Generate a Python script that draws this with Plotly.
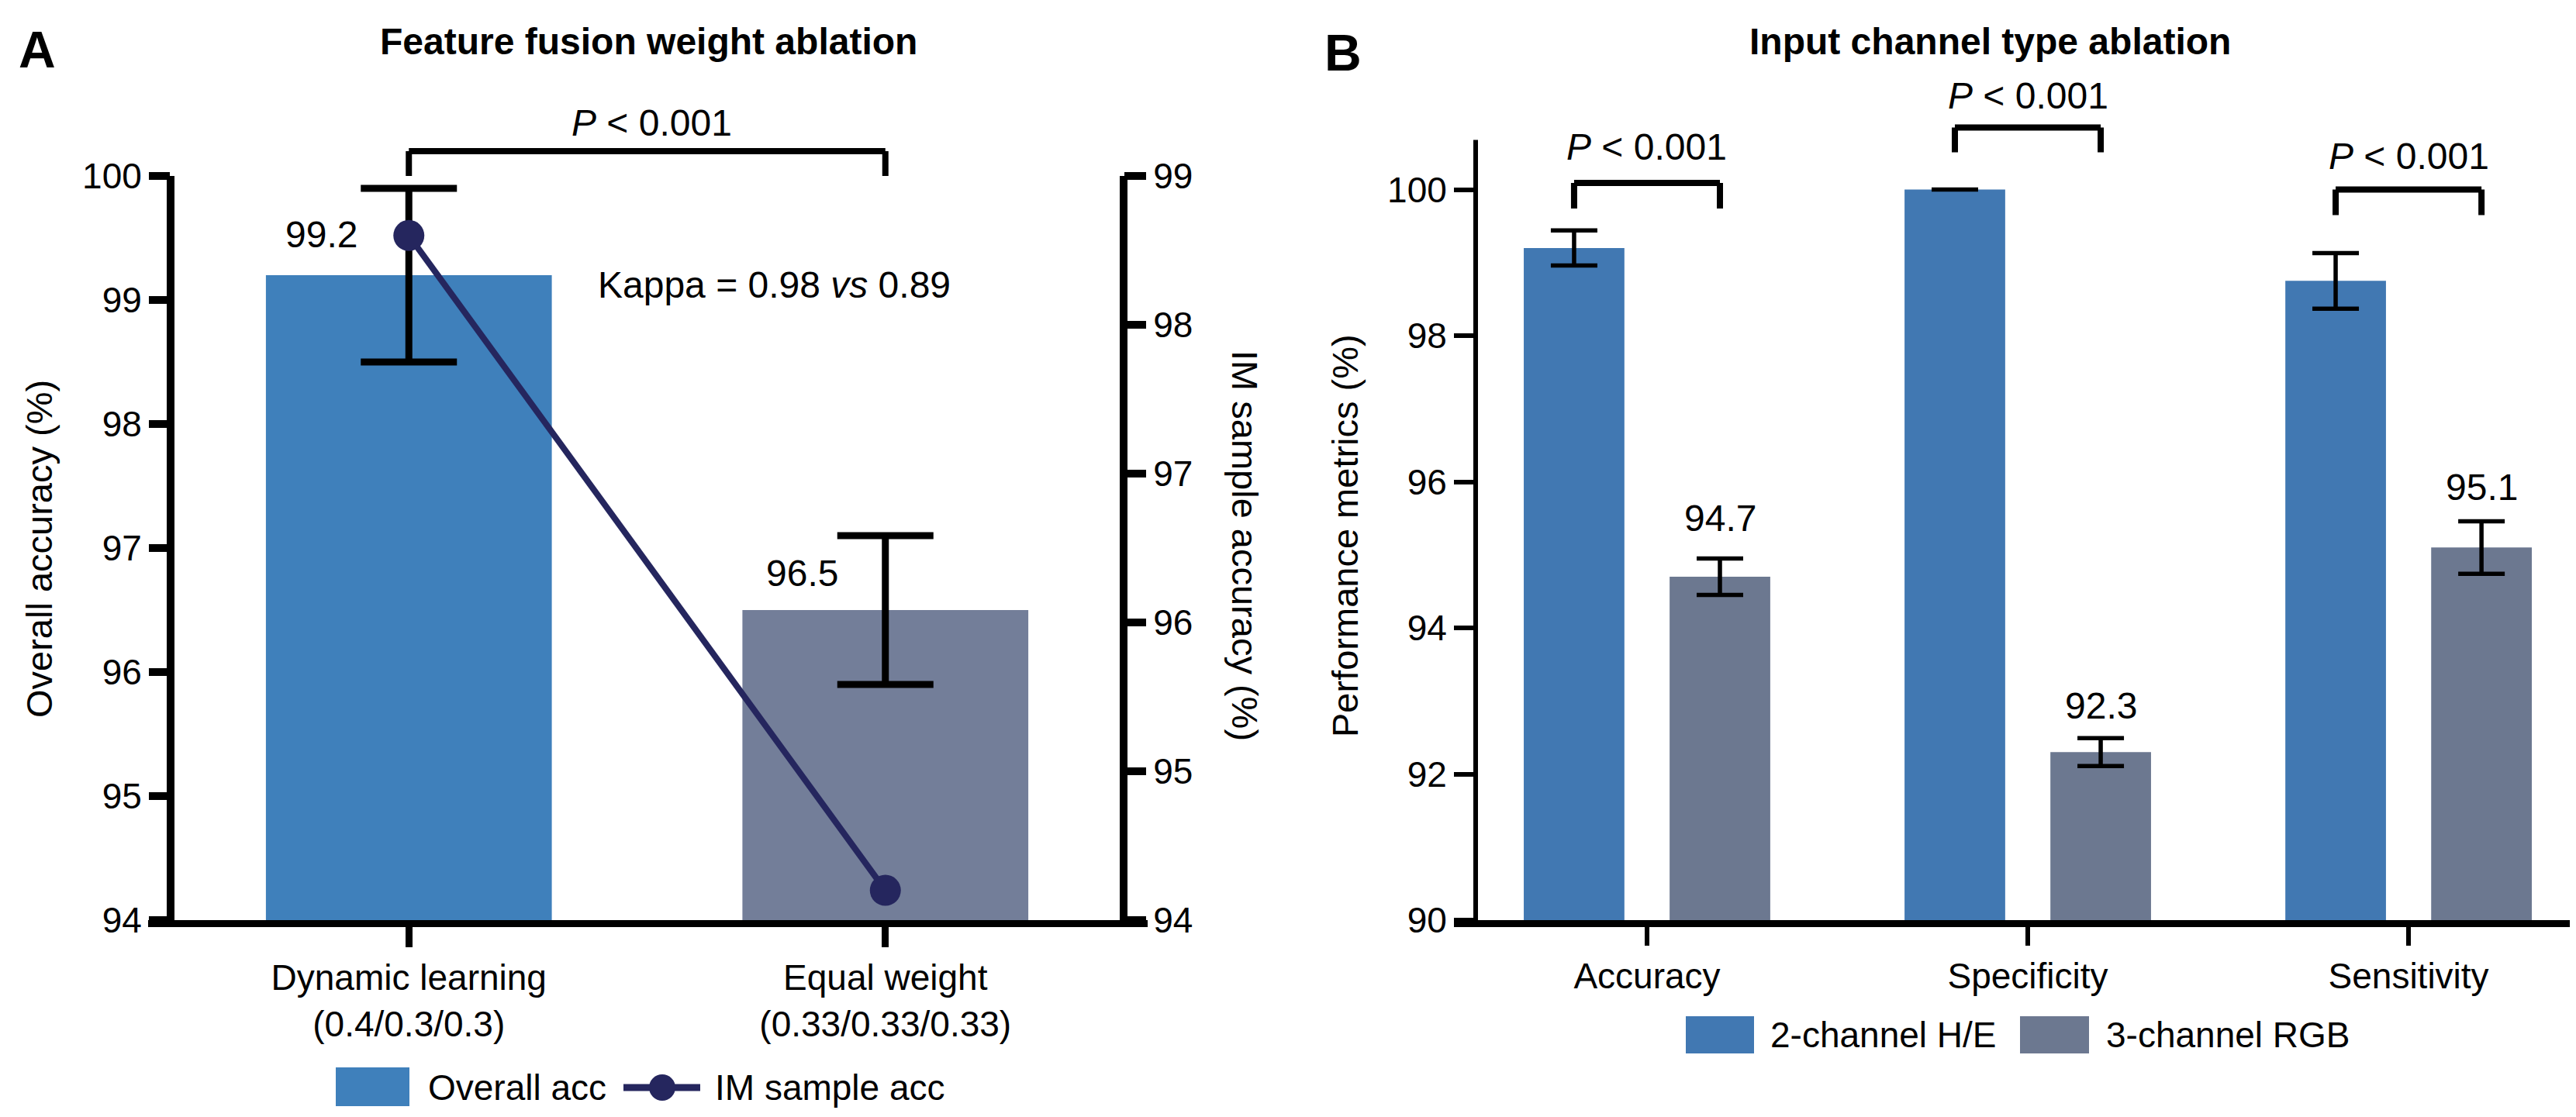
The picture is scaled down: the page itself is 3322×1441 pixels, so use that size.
import plotly.graph_objects as go

W, H = 3322, 1441

# panel A: feature fusion weight ablation
fusion_labels = ["Dynamic learning<br>(0.4/0.3/0.3)", "Equal weight<br>(0.33/0.33/0.33)"]
overall_acc = [99.2, 96.5]
overall_err = [0.7, 0.6]
im_sample_acc = [98.6, 94.2]

# panel B: input channel type ablation
metrics = ["Accuracy", "Specificity", "Sensitivity"]
he_acc = [99.2, 100.0, 98.75]
he_err = [0.24, 0.0, 0.38]
rgb_acc = [94.7, 92.3, 95.1]
rgb_err = [0.25, 0.19, 0.36]

BLUE_A = "#3F80BB"
GRAY_A = "#737E99"
BLUE_B = "#4178B2"
GRAY_B = "#6C7890"
NAVY = "#25265E"
FONT = "Liberation Sans, Arial, sans-serif"
BARGAP = 0.234


def px(x):
    return x / W


def py(y):
    return 1 - y / H


fig = go.Figure()

fig.add_trace(go.Bar(
    x=fusion_labels, y=overall_acc, width=0.6,
    marker=dict(color=[BLUE_A, GRAY_A], line=dict(width=0)),
    error_y=dict(type="data", array=overall_err, color="black", thickness=9, width=62),
    xaxis="x", yaxis="y", showlegend=False))
fig.add_trace(go.Scatter(
    x=fusion_labels, y=im_sample_acc, mode="lines+markers",
    line=dict(color=NAVY, width=8), marker=dict(size=40, color=NAVY),
    xaxis="x", yaxis="y2", showlegend=False, cliponaxis=False))

fig.add_trace(go.Bar(
    x=metrics, y=he_acc, name="2-channel H/E", marker=dict(color=BLUE_B, line=dict(width=0)),
    error_y=dict(type="data", array=he_err, color="black", thickness=5.5, width=30),
    xaxis="x2", yaxis="y3", showlegend=False))
fig.add_trace(go.Bar(
    x=metrics, y=rgb_acc, name="3-channel RGB", marker=dict(color=GRAY_B, line=dict(width=0)),
    error_y=dict(type="data", array=rgb_err, color="black", thickness=5.5, width=30),
    xaxis="x2", yaxis="y3", showlegend=False))

tick_font = dict(family=FONT, size=46, color="black")
fig.update_layout(
    width=W, height=H, template="none",
    paper_bgcolor="white", plot_bgcolor="rgba(0,0,0,0)",
    margin=dict(l=0, r=0, t=0, b=0),
    font=dict(family=FONT, size=46, color="black"),
    barmode="group", bargap=BARGAP, bargroupgap=0.31,
    xaxis=dict(domain=[px(212), px(1441)], range=[-0.5, 1.5], type="category",
               showline=False, showgrid=False, zeroline=False,
               ticks="outside", ticklen=34, tickwidth=9, tickcolor="black",
               tickfont=tick_font, anchor="y", automargin=False),
    yaxis=dict(domain=[py(1179), py(123)], range=[94, 100.6], tickvals=[94, 95, 96, 97, 98, 99, 100],
               showline=False, showgrid=False, zeroline=False,
               ticks="outside", ticklen=27, tickwidth=10, tickcolor="black",
               tickfont=tick_font, anchor="x", automargin=False),
    yaxis2=dict(domain=[py(1179), py(123)], range=[94, 99.5], tickvals=[94, 95, 96, 97, 98, 99],
                overlaying="y", side="right", anchor="x",
                showline=False, showgrid=False, zeroline=False,
                ticks="outside", ticklen=28, tickwidth=10, tickcolor="black",
                tickfont=tick_font, automargin=False),
    xaxis2=dict(domain=[px(1895), 1.0], range=[-0.45, 2.456], type="category",
                showline=False, showgrid=False, zeroline=False,
                ticks="outside", ticklen=32, tickwidth=6, tickcolor="black",
                tickfont=tick_font, anchor="y3", automargin=False),
    yaxis3=dict(domain=[py(1179), py(85.7)], range=[90, 101.6], tickvals=[90, 92, 94, 96, 98, 100],
                showline=False, showgrid=False, zeroline=False,
                ticks="outside", ticklen=27, tickwidth=5.5, tickcolor="black",
                tickfont=tick_font, anchor="x2", automargin=False),
)

# axis lines (drawn as shapes so they stop at the top tick)
fig.add_shape(type="line", xref="paper", yref="y", x0=px(212), x1=px(212), y0=94, y1=100,
              line=dict(color="black", width=10))
fig.add_shape(type="line", xref="paper", yref="y2", x0=px(1441), x1=px(1441), y0=94, y1=99,
              line=dict(color="black", width=10))
fig.add_shape(type="line", xref="paper", yref="paper", x0=px(183), x1=px(1472), y0=py(1183.5), y1=py(1183.5),
              line=dict(color="black", width=9))
fig.add_shape(type="line", xref="paper", yref="y3", x0=px(1895), x1=px(1895), y0=90, y1=100.68,
              line=dict(color="black", width=6))
fig.add_shape(type="line", xref="paper", yref="paper", x0=px(1867), x1=1.0, y0=py(1183.5), y1=py(1183.5),
              line=dict(color="black", width=9))


def bracket(xref, yref, xa, xb, ytop, ybot, w):
    lw = dict(color="black", width=w)
    fig.add_shape(type="line", xref=xref, yref=yref, x0=xa, x1=xa, y0=ybot, y1=ytop, line=lw)
    fig.add_shape(type="line", xref=xref, yref=yref, x0=xb, x1=xb, y0=ybot, y1=ytop, line=lw)
    fig.add_shape(type="line", xref=xref, yref=yref, x0=xa, x1=xb, y0=ytop, y1=ytop, line=lw)


PTXT = "<i>P</i> &lt; 0.001"


def note(text, x, y, xref, yref, size=48, xanchor="center", yanchor="middle", **kw):
    fig.add_annotation(text=text, x=x, y=y, xref=xref, yref=yref, showarrow=False,
                       xanchor=xanchor, yanchor=yanchor,
                       font=dict(family=FONT, size=size, color="black"), **kw)


# panel A annotations
bracket("x", "y", 0, 1, 100.2, 100.0, 8)
note(PTXT, 0.51, 100.43, "x", "y")
note("Kappa = 0.98 <i>vs</i> 0.89", 0.394, 99.12, "x", "y", xanchor="left")
note("99.2", -0.105, 99.53, "x", "y", xanchor="right")
note("96.5", 0.905, 96.8, "x", "y", xanchor="right")

# panel B annotations
half = (1 - BARGAP) / 4
for i, (yt, yb, ytxt) in enumerate([(100.09, 99.74, 100.58), (100.85, 100.51, 101.28), (100.0, 99.65, 100.46)]):
    bracket("x2", "y3", i - half, i + half, yt, yb, 8)
    note(PTXT, i, ytxt, "x2", "y3")
for i, (v, ylab) in enumerate(zip(rgb_acc, [95.5, 92.93, 95.93])):
    note(f"{v}", i + half, ylab, "x2", "y3")

# titles, panel letters, axis titles
note("<b>Feature fusion weight ablation</b>", px(828), py(46), "paper", "paper", size=48)
note("<b>Input channel type ablation</b>", px(2558), py(46), "paper", "paper", size=48)
note("<b>A</b>", px(40), py(56), "paper", "paper", size=66)
note("<b>B</b>", px(1724), py(60), "paper", "paper", size=66)
note("Overall accuracy (%)", px(42), py(700), "paper", "paper", size=47, textangle=-90)
note("IM sample accuracy (%)", px(1598), py(696), "paper", "paper", size=47, textangle=90)
note("Performance metrics (%)", px(1726), py(683), "paper", "paper", size=47, textangle=-90)

# legend A
fig.add_shape(type="rect", xref="paper", yref="paper", x0=px(425), x1=px(520), y0=py(1419), y1=py(1369),
              fillcolor=BLUE_A, line=dict(width=0))
note("Overall acc", px(542), py(1395), "paper", "paper", size=46, xanchor="left")
fig.add_shape(type="line", xref="paper", yref="paper", x0=px(796), x1=px(895), y0=py(1395), y1=py(1395),
              line=dict(color=NAVY, width=9))
fig.add_shape(type="circle", xref="paper", yref="paper", x0=px(829), x1=px(863), y0=py(1412), y1=py(1378),
              fillcolor=NAVY, line=dict(width=0))
note("IM sample acc", px(912), py(1395), "paper", "paper", size=46, xanchor="left")

# legend B
fig.add_shape(type="rect", xref="paper", yref="paper", x0=px(2166), x1=px(2254), y0=py(1351), y1=py(1303),
              fillcolor=BLUE_B, line=dict(width=0))
note("2-channel H/E", px(2273), py(1327), "paper", "paper", size=46, xanchor="left")
fig.add_shape(type="rect", xref="paper", yref="paper", x0=px(2597), x1=px(2686), y0=py(1351), y1=py(1303),
              fillcolor=GRAY_B, line=dict(width=0))
note("3-channel RGB", px(2706), py(1327), "paper", "paper", size=46, xanchor="left")

fig.write_html("out.html")
